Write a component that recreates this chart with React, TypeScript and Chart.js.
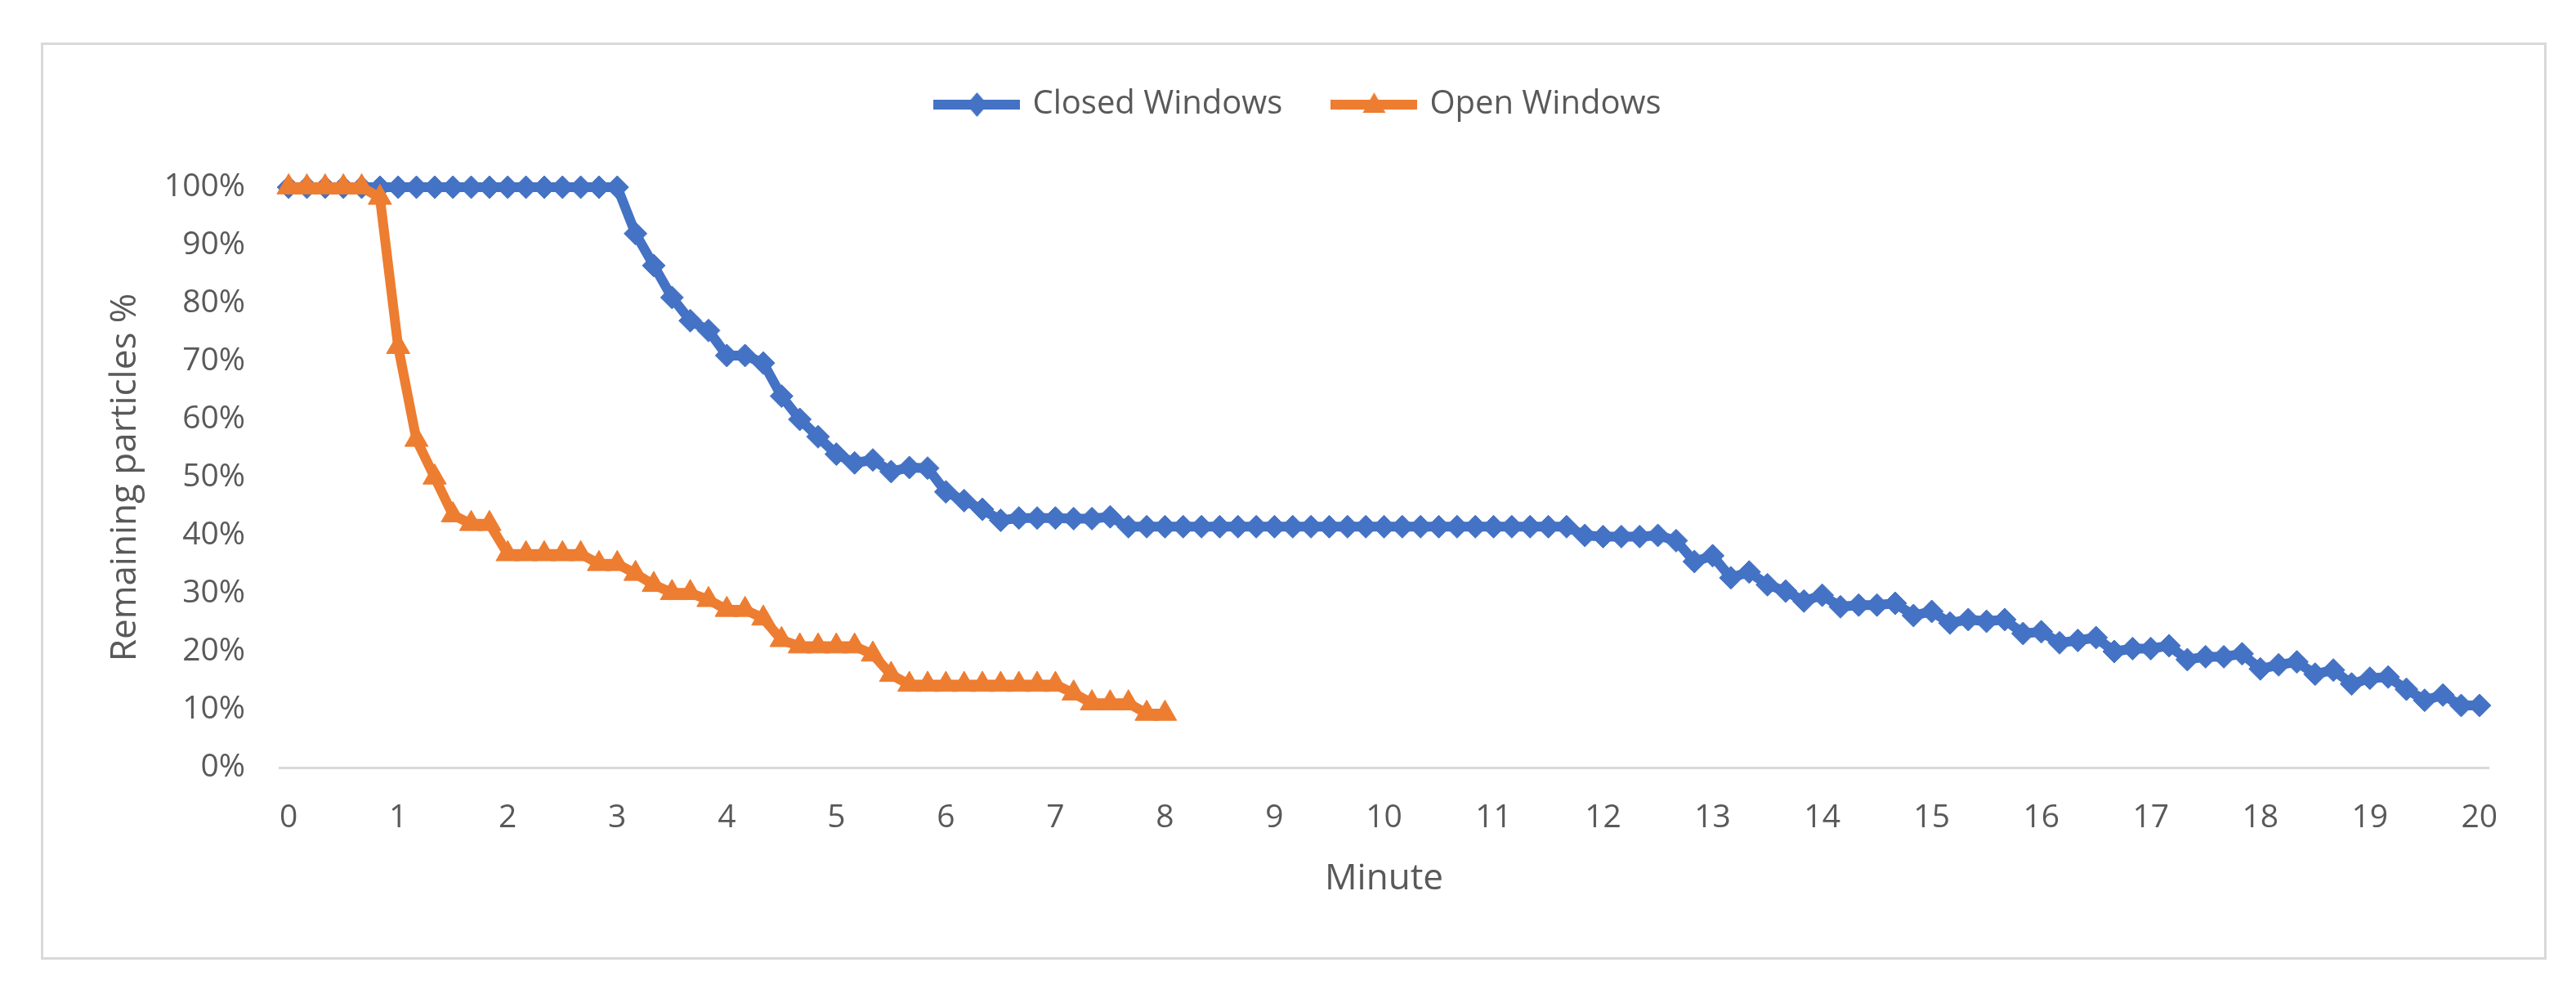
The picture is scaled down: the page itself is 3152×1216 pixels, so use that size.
import React, { useEffect, useRef } from 'react';
import { Chart, registerables } from 'chart.js';

Chart.register(...registerables);

// x categories: one reading every 10 seconds, 0 … 20 minutes
const minutes: number[] = Array.from({ length: 121 }, (_, i) => i / 6);
const minuteTicks = ['0', '1', '2', '3', '4', '5', '6', '7', '8', '9', '10', '11', '12', '13', '14', '15', '16', '17', '18', '19', '20'];

// Remaining particles (%) – closed windows (0–20 min)
const closedWindows = [
  100, 100, 100, 100, 100, 100, 100, 100, 100, 100, 100, 100, 100, 100, 100, 100, 100, 100, 100,
  92, 86.5, 81, 77, 75.3, 71, 71, 69.7, 64, 60, 57, 54,
  52.5, 53, 51, 51.7, 51.6, 47.5, 46, 44.5, 42.6, 43, 43, 43, 42.9, 42.9, 43.2,
  41.5, 41.5, 41.5, 41.5, 41.5, 41.5, 41.5, 41.5, 41.5, 41.5, 41.5, 41.5, 41.5, 41.5, 41.5,
  41.5, 41.5, 41.5, 41.5, 41.5, 41.5, 41.5, 41.5, 41.5, 41.5,
  40, 39.8, 39.8, 39.8, 40, 39.1, 35.5, 36.5, 32.7, 33.7, 31.5, 30.4, 28.7, 29.7,
  27.7, 28, 28, 28.3, 26.2, 26.9, 24.9, 25.5, 25.2, 25.5, 23.1, 23.4,
  21.5, 21.9, 22.4, 20, 20.5, 20.5, 21, 18.6, 19.1, 19.1, 19.6, 17, 17.7, 18.2,
  16.1, 16.8, 14.4, 15.4, 15.6, 13.5, 11.6, 12.5, 10.7, 10.7,
];

// Remaining particles (%) – open windows (0–8 min)
const openWindows = [
  100, 100, 100, 100, 100, 98.2, 72.5, 56.5, 50, 43.5, 42, 42,
  36.8, 36.8, 36.8, 36.8, 36.8, 35.1, 35.1, 33.4, 31.5, 30.1, 30.1, 28.9,
  27.2, 27.2, 25.7, 22, 20.9, 20.9, 20.9, 20.9, 19.5, 16,
  14.3, 14.3, 14.3, 14.3, 14.3, 14.3, 14.3, 14.3, 14.3, 12.8, 11.1, 11.1, 11.1, 9.3, 9.3,
];

const seriesNames = ['Closed Windows', 'Open Windows'];

const BLUE = '#4472C4';
const ORANGE = '#ED7D31';
const TEXT = '#595959';
const FONT = "'Open Sans', 'Liberation Sans', sans-serif";

function makeIcon(color: string, kind: 'diamond' | 'triangle') {
  const c = document.createElement('canvas');
  c.width = 106;
  c.height = 36;
  const g = c.getContext('2d') as CanvasRenderingContext2D;
  g.strokeStyle = color;
  g.lineWidth = 12;
  g.beginPath();
  g.moveTo(0, 18);
  g.lineTo(106, 18);
  g.stroke();
  g.fillStyle = color;
  g.beginPath();
  if (kind === 'diamond') {
    g.moveTo(53, 3);
    g.lineTo(66, 18);
    g.lineTo(53, 33);
    g.lineTo(40, 18);
  } else {
    g.moveTo(53, 3);
    g.lineTo(67, 28);
    g.lineTo(39, 28);
  }
  g.closePath();
  g.fill();
  return c;
}

const LEGEND_GAP = 71;

const legendSpacer = {
  id: 'legendSpacer',
  beforeLayout(chart: any) {
    const lg = chart.legend;
    if (lg && !lg.__patched) {
      const orig = lg.fit.bind(lg);
      lg.fit = function () {
        orig();
        this.height += LEGEND_GAP;
      };
      lg.__patched = true;
    }
  },
};

export default function App() {
  const ref = useRef<HTMLCanvasElement | null>(null);

  useEffect(() => {
    if (!ref.current) return;
    const icons = [makeIcon(BLUE, 'diamond'), makeIcon(ORANGE, 'triangle')];
    const chart = new Chart(ref.current, {
      type: 'line',
      data: {
        labels: minutes,
        datasets: [
          {
            label: seriesNames[0],
            data: closedWindows,
            borderColor: BLUE,
            backgroundColor: BLUE,
            borderWidth: 12,
            borderJoinStyle: 'round',
            borderCapStyle: 'round',
            pointStyle: 'rectRot',
            pointRadius: 14,
            pointBorderWidth: 1,
            pointBackgroundColor: BLUE,
            pointBorderColor: BLUE,
            tension: 0,
            order: 1,
            clip: false,
          } as any,
          {
            label: seriesNames[1],
            data: openWindows,
            borderColor: ORANGE,
            backgroundColor: ORANGE,
            borderWidth: 12,
            borderJoinStyle: 'round',
            borderCapStyle: 'round',
            pointStyle: 'triangle',
            pointRadius: 16.5,
            pointBorderWidth: 1,
            pointBackgroundColor: ORANGE,
            pointBorderColor: ORANGE,
            tension: 0,
            order: 0,
            clip: false,
          } as any,
        ],
      },
      options: {
        responsive: false,
        animation: false,
        events: [],
        layout: { padding: { top: 44, left: 135, right: 107, bottom: 0 } },
        plugins: {
          tooltip: { enabled: false },
          legend: {
            display: true,
            position: 'top',
            align: 'center',
            labels: {
              usePointStyle: true,
              pointStyleWidth: 96,
              padding: 64,
              color: TEXT,
              font: { family: FONT, size: 40 },
              sort: (a: any, b: any) => a.datasetIndex - b.datasetIndex,
              generateLabels: (ch: any) => {
                const items = (Chart as any).defaults.plugins.legend.labels.generateLabels(ch);
                items.forEach((it: any) => {
                  it.pointStyle = icons[it.datasetIndex];
                });
                return items;
              },
            },
          },
        },
        scales: {
          x: {
            type: 'category',
            offset: true,
            grid: { display: false, drawTicks: false },
            border: { display: true, color: '#D9D9D9', width: 3 },
            afterBuildTicks: (s: any) => {
              s.ticks = s.ticks.filter((t: any) => t.value % 6 === 0);
            },
            afterFit: (s: any) => {
              s.height = 277;
            },
            ticks: {
              autoSkip: false,
              maxRotation: 0,
              minRotation: 0,
              padding: 38,
              color: TEXT,
              font: { family: FONT, size: 39 },
              callback: (v: any) => minuteTicks[Math.round(Number(v) / 6)],
            },
            title: {
              display: true,
              text: 'Minute',
              color: TEXT,
              font: { family: FONT, size: 44 },
              padding: { top: 0, bottom: 114 },
            },
          },
          y: {
            min: 0,
            max: 100,
            grid: { display: false, drawTicks: false },
            border: { display: false },
            afterFit: (s: any) => {
              s.width = 207;
            },
            ticks: {
              stepSize: 10,
              padding: 42,
              color: TEXT,
              font: { family: FONT, size: 39 },
              callback: (v: any) => `${v}%`,
            },
            title: {
              display: true,
              text: 'Remaining particles %',
              color: TEXT,
              font: { family: FONT, size: 44 },
              padding: { top: -8, bottom: 0 },
            },
          },
        },
      } as any,
      plugins: [legendSpacer],
    });
    return () => chart.destroy();
  }, []);

  return (
    <div style={{ position: 'absolute', left: 0, top: 0, width: 3152, height: 1216, background: '#ffffff', overflow: 'hidden' }}>
      <canvas ref={ref} width={3152} height={1216} style={{ position: 'absolute', left: 0, top: 0, width: 3152, height: 1216 }} />
      <div
        style={{
          position: 'absolute',
          left: 50,
          top: 52,
          width: 3060,
          height: 1116,
          border: '3px solid #D9D9D9',
          pointerEvents: 'none',
        }}
      />
    </div>
  );
}
